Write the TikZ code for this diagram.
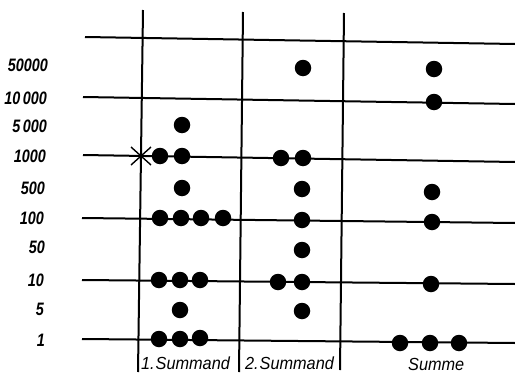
\documentclass[tikz,border=0pt]{standalone}
\usepackage{fontspec}
\setmainfont{Liberation Sans}
\begin{document}
\begin{tikzpicture}[x=1pt,y=-1pt,
  rule/.style={line width=2pt},
  bead/.style={circle,fill=black,inner sep=0pt,minimum size=16.5pt},
  val/.style={anchor=east,font=\fontsize{18}{18}\selectfont\bfseries\itshape,xscale=0.8,inner sep=0pt},
  caption/.style={anchor=base west,font=\fontsize{17.5}{17.5}\selectfont\itshape,xscale=0.93,inner sep=0pt}]
\useasboundingbox (0,0) rectangle (515,375);
% horizontal rules
\draw[rule] (85,37) -- (515,44);
\draw[rule] (83,97) -- (515,104);
\draw[rule] (83,155) -- (515,162);
\draw[rule] (82,218) -- (515,223);
\draw[rule] (82,280) -- (515,284);
\draw[rule] (82,339) -- (515,343);
% vertical rules
\draw[rule] (143,10) -- (138,372);
\draw[rule] (243,12) -- (239,372);
\draw[rule] (344,13) -- (340,370);
% value labels
\node[val] (v50000) at (48,65) {50000};
\node[val] (v10000) at (47,98) {10\,000};
\node[val] (v5000) at (47,126) {5\,000};
\node[val] (v1000) at (46,156) {1000};
\node[val] (v500) at (45,188) {500};
\node[val] (v100) at (44,218) {100};
\node[val] (v50) at (45,247) {50};
\node[val] (v10) at (44,280) {10};
\node[val] (v5) at (44,309) {5};
\node[val] (v1) at (45,340) {1};
% cross
\draw[line width=1.4pt] (131,147) -- (151,165) (131,165) -- (151,147);
% first summand
\node[bead] (a1) at (182,125) {};
\node[bead] (a2) at (160,156) {};
\node[bead] (a3) at (182,156) {};
\node[bead] (a4) at (182,188) {};
\node[bead] (a5) at (160,218) {};
\node[bead] (a6) at (181,218) {};
\node[bead] (a7) at (201,218) {};
\node[bead] (a8) at (223,218) {};
\node[bead] (a9) at (159,280) {};
\node[bead] (a10) at (180,280) {};
\node[bead] (a11) at (200,280) {};
\node[bead] (a12) at (180,310) {};
\node[bead] (a13) at (159,339) {};
\node[bead] (a14) at (180,339) {};
\node[bead] (a15) at (200,338) {};
% second summand
\node[bead] (b1) at (303,68) {};
\node[bead] (b2) at (281,158) {};
\node[bead] (b3) at (303,158) {};
\node[bead] (b4) at (302,189) {};
\node[bead] (b5) at (302,220) {};
\node[bead] (b6) at (302,250) {};
\node[bead] (b7) at (278,282) {};
\node[bead] (b8) at (302,282) {};
\node[bead] (b9) at (302,311) {};
% sum
\node[bead] (c1) at (434,69) {};
\node[bead] (c2) at (434,102) {};
\node[bead] (c3) at (432,192) {};
\node[bead] (c4) at (432,222) {};
\node[bead] (c5) at (431,284) {};
\node[bead] (c6) at (400,343) {};
\node[bead] (c7) at (430,343) {};
\node[bead] (c8) at (459,343) {};
% captions
\node[caption] (s1) at (141,369) {1.\kern1pt Summand};
\node[caption] (s2) at (245,369) {2.\kern1pt Summand};
\node[caption] (s3) at (408,370) {Summe};
\end{tikzpicture}
\end{document}
